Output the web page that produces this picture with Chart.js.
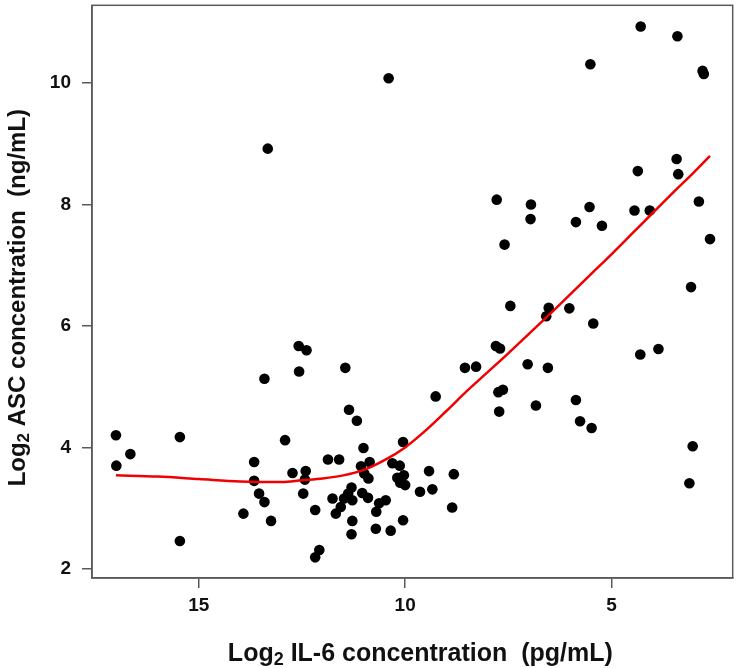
<!DOCTYPE html>
<html lang="en">
<head>
<meta charset="UTF-8">
<title>ASC vs IL-6</title>
<script src="https://cdn.jsdelivr.net/npm/chart.js"></script>
<style>
  html, body { margin: 0; padding: 0; background: #fff; }
  #wrap { width: 738px; height: 668px; }
</style>
</head>
<body>
<div id="wrap"><canvas id="chart" width="738" height="668"></canvas></div>
<script>
// Log2 IL-6 (pg/mL) for each sample
const il6 = [
  17.01, 17.00, 16.66, 15.46, 15.46, 13.92, 13.66, 13.66, 13.54, 13.41,
  13.25, 12.91, 12.73, 12.41, 12.43, 12.47, 12.18, 12.08, 12.18, 13.41,
  12.58, 12.39, 12.57, 11.45, 11.36, 11.17, 13.33, 10.40, 11.01, 10.05,
  11.87, 11.60, 11.07, 10.86, 10.99, 10.89, 10.31, 10.13, 10.19, 10.03,
  10.12, 10.00, 11.76, 11.30, 11.38, 11.48, 11.28, 11.04, 10.90, 11.56,
  11.68, 10.63, 10.47, 10.70, 11.28, 11.30, 10.71, 10.35, 10.05, 9.42,
  8.82, 9.64, 9.34, 8.86, 9.26, 8.55, 8.28, 7.80, 7.70, 7.74,
  7.63, 7.72, 7.45, 6.52, 6.58, 6.02, 5.44, 7.03, 6.54, 6.83,
  5.86, 5.76, 5.48, 4.30, 3.86, 3.03, 3.11, 4.29, 3.40, 5.51,
  2.79, 2.76, 3.42, 4.36, 3.38, 7.78, 6.95, 6.96, 5.53, 5.86,
  5.23, 4.44, 4.07, 2.88, 7.59, 2.61, 3.07
];
// Log2 ASC (ng/mL) for each sample
const asc = [
  4.20, 3.70, 3.89, 4.17, 2.46, 2.91, 3.76, 3.45, 3.24, 3.10,
  2.79, 4.12, 3.58, 3.61, 3.47, 3.24, 2.97, 2.31, 2.19, 5.13,
  5.67, 5.60, 5.25, 5.31, 4.62, 4.44, 8.92, 10.08, 3.99, 4.09,
  3.80, 3.80, 3.69, 3.76, 3.57, 3.49, 3.74, 3.70, 3.50, 3.54,
  3.42, 3.38, 3.16, 3.34, 3.24, 3.16, 3.13, 3.25, 3.17, 3.02,
  2.91, 3.08, 3.13, 2.94, 2.79, 2.57, 2.66, 2.63, 2.80, 3.61,
  3.56, 3.27, 3.31, 3.01, 4.84, 5.31, 5.33, 5.67, 5.63, 4.91,
  4.95, 4.59, 6.33, 6.30, 6.16, 6.29, 6.04, 5.37, 5.31, 4.69,
  4.78, 4.43, 4.32, 5.53, 5.62, 4.02, 3.41, 10.93, 10.77, 10.31,
  10.20, 10.15, 8.75, 8.55, 8.50, 8.08, 8.00, 7.76, 7.96, 7.71,
  7.65, 7.90, 7.90, 8.05, 7.34, 7.43, 6.64
];
// smoothed (loess) fit, red curve
const fitIl6 = [17.01, 16.0, 15.0, 14.0, 13.0, 12.5, 12.0, 11.5, 11.0, 10.5, 10.0, 9.5, 9.0, 8.5, 8.0, 7.5, 7.0, 6.5, 6.0, 5.5, 5.0, 4.5, 4.0, 3.5, 3.0, 2.61];
const fitAsc = [3.54, 3.52, 3.48, 3.44, 3.43, 3.46, 3.49, 3.54, 3.63, 3.79, 4.00, 4.28, 4.60, 4.93, 5.24, 5.55, 5.87, 6.19, 6.52, 6.85, 7.18, 7.52, 7.86, 8.20, 8.53, 8.80];

const xTicks = [15, 10, 5];
const yTicks = [2, 4, 6, 8, 10];

// axis titles, split so the "2" can be drawn as a subscript
const xTitle = ['Log', '2', ' IL-6 concentration  (pg/mL)'];
const yTitle = ['Log', '2', ' ASC concentration  (ng/mL)'];

const axisGrey = '#5a5a5a';
const fam = '"Liberation Sans", Arial, sans-serif';
const tickFont = { family: fam, size: 19, weight: 'bold' };

// frame around the plotting region (R style box)
const boxPlugin = {
  id: 'box',
  beforeDatasetsDraw(chart) {
    const a = chart.chartArea;
    const ctx = chart.ctx;
    ctx.save();
    ctx.strokeStyle = axisGrey;
    ctx.lineWidth = 1.5;
    ctx.strokeRect(a.left, a.top, a.right - a.left, a.bottom - a.top);
    ctx.restore();
  }
};

// draws "Log" + subscript 2 + rest, centred on (cx, baseline)
function drawTitle(ctx, parts, cx, cy, rot, size) {
  const big = 'bold ' + size + 'px ' + fam;
  const small = 'bold ' + Math.round(size * 0.7) + 'px ' + fam;
  ctx.save();
  ctx.translate(cx, cy);
  ctx.rotate(rot);
  ctx.fillStyle = '#111';
  ctx.textBaseline = 'alphabetic';
  ctx.textAlign = 'left';
  let w = 0;
  parts.forEach((p, i) => { ctx.font = i === 1 ? small : big; w += ctx.measureText(p).width; });
  let x = -w / 2;
  parts.forEach((p, i) => {
    ctx.font = i === 1 ? small : big;
    ctx.fillText(p, x, i === 1 ? 4 : 0);
    x += ctx.measureText(p).width;
  });
  ctx.restore();
}

const titlePlugin = {
  id: 'axisTitles',
  afterDraw(chart) {
    const a = chart.chartArea;
    drawTitle(chart.ctx, xTitle, (a.left + a.right) / 2 + 8, 661, 0, 25);
    drawTitle(chart.ctx, yTitle, 25, (a.top + a.bottom) / 2 + 6, -Math.PI / 2, 24);
  }
};

const points = il6.map((v, i) => ({ x: v, y: asc[i] }));
const fitLine = fitIl6.map((v, i) => ({ x: v, y: fitAsc[i] }));

new Chart(document.getElementById('chart'), {
  type: 'scatter',
  data: {
    datasets: [
      {
        label: 'Loess fit',
        data: fitLine,
        showLine: true,
        borderColor: '#f00000',
        borderWidth: 2.5,
        pointRadius: 0,
        cubicInterpolationMode: 'monotone',
        order: 0
      },
      {
        label: 'Samples',
        data: points,
        backgroundColor: '#000',
        borderColor: '#000',
        pointRadius: 5.3,
        borderWidth: 0,
        order: 1
      }
    ]
  },
  options: {
    responsive: false,
    animation: false,
    devicePixelRatio: 1,
    layout: { padding: { top: 3, right: 4, left: 0, bottom: 0 } },
    plugins: {
      legend: { display: false },
      tooltip: { enabled: false }
    },
    scales: {
      x: {
        type: 'linear',
        reverse: true,
        min: 2.06,
        max: 17.59,
        afterBuildTicks: s => { s.ticks = xTicks.map(v => ({ value: v })); },
        afterFit: s => { s.height = 90; s.paddingLeft = 0; s.paddingRight = 0; },
        grid: { display: true, drawOnChartArea: false, drawTicks: true, tickLength: 10, color: axisGrey, lineWidth: 1.5 },
        border: { display: true, color: axisGrey, width: 1.5 },
        ticks: { font: tickFont, color: '#111', padding: 6, maxRotation: 0 }
      },
      y: {
        type: 'linear',
        min: 1.85,
        max: 11.28,
        afterBuildTicks: s => { s.ticks = yTicks.map(v => ({ value: v })); },
        afterFit: s => { s.width = 92; s.paddingTop = 0; s.paddingBottom = 0; },
        grid: { display: true, drawOnChartArea: false, drawTicks: true, tickLength: 10, color: axisGrey, lineWidth: 1.5 },
        border: { display: true, color: axisGrey, width: 1.5 },
        ticks: { font: tickFont, color: '#111', padding: 11 }
      }
    }
  },
  plugins: [boxPlugin, titlePlugin]
});
</script>
</body>
</html>
